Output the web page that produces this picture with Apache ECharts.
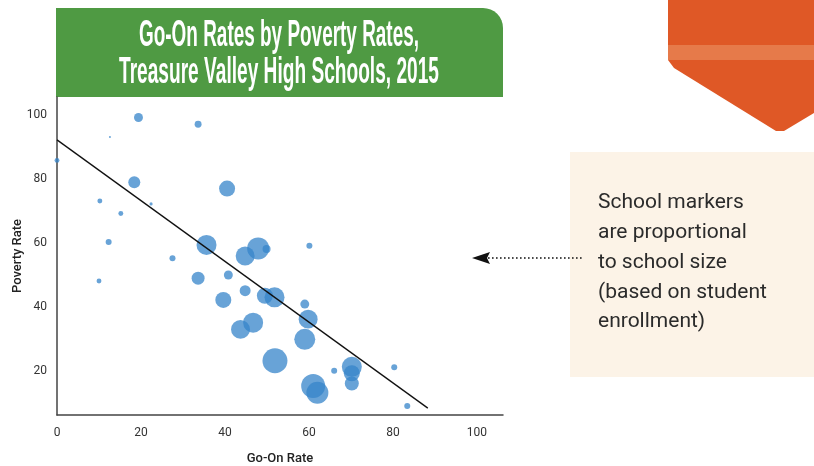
<!DOCTYPE html>
<html>
<head>
<meta charset="utf-8">
<script src="https://cdn.jsdelivr.net/npm/echarts@6/dist/echarts.min.js"></script>
<style>
  html, body { margin: 0; padding: 0; background: #fff; }
  #chart { width: 814px; height: 466px; }
</style>
</head>
<body>
<div id="chart"></div>
<script>
// go-on rate (x), poverty rate (y), enrollment (relative marker size)
const goOnRate = [19.4, 33.6, 12.6, 0, 18.4, 40.5, 10.2, 22.4, 15.2, 12.3, 35.6, 47.9, 44.8, 49.9, 60.1, 27.5, 33.6, 40.8, 44.8, 39.6, 49.5, 51.8, 59.0, 59.8, 46.7, 43.7, 59.0, 51.9, 70.2, 70.2, 70.2, 66.0, 80.3, 61.0, 62.0, 83.4, 10.0]
const povertyRate = [99.2, 97.1, 93.1, 85.8, 79.0, 77.0, 73.1, 72.2, 69.2, 60.3, 59.4, 58.3, 55.9, 58.1, 59.1, 55.2, 49.0, 50.0, 45.1, 42.2, 43.5, 43.0, 40.9, 36.2, 35.1, 33.0, 29.9, 23.2, 21.3, 19.3, 16.1, 20.1, 21.2, 15.3, 13.2, 9.1, 48.1]
const enrollment = [200, 120, 10, 60, 360, 640, 60, 25, 60, 90, 1000, 1210, 900, 160, 90, 90, 420, 200, 300, 640, 640, 1000, 200, 900, 1000, 900, 1100, 1560, 1000, 640, 490, 90, 90, 1440, 1210, 90, 60]

// trend line end points
const trendX = [0, 88.3]
const trendY = [92.2, 8.4]

const xTicks = [0, 20, 40, 60, 80, 100]
const yTicks = [20, 40, 60, 80, 100]

const titleLines = ['Go-On Rates by Poverty Rates,', 'Treasure Valley High Schools, 2015']
const noteLines = ['School markers', 'are proportional', 'to school size', '(based on student', 'enrollment)']

const points = goOnRate.map((x, i) => [x, povertyRate[i], enrollment[i]])
const trend = trendX.map((x, i) => [x, trendY[i]])

// squeeze title font to fit widths seen in the picture
const ctx = document.createElement('canvas').getContext('2d')
const titleFont = 'bold 37px "Liberation Sans Narrow", "Liberation Sans", sans-serif'
ctx.font = titleFont
const titleWidths = [280, 320]
const titleScale = titleLines.map((t, i) => titleWidths[i] / ctx.measureText(t).width)

const chart = echarts.init(document.getElementById('chart'))

const option = {
  animation: false,
  grid: { left: 57, right: 311, top: 97, bottom: 51, outerBoundsMode: 'none' },
  xAxis: {
    type: 'value',
    min: 0,
    max: 106.2,
    name: 'Go-On Rate',
    nameLocation: 'middle',
    nameGap: 37,
    nameMoveOverlap: false,
    nameTextStyle: { fontFamily: 'Roboto', fontSize: 13, color: '#222', fontWeight: 500 },
    splitLine: { show: false },
    axisTick: { show: false },
    axisLine: { lineStyle: { color: '#444', width: 1.5 } },
    axisLabel: { customValues: xTicks, fontFamily: 'Roboto', fontSize: 12, color: '#333', margin: 12 }
  },
  yAxis: {
    type: 'value',
    min: 6.25,
    max: 105.6,
    name: 'Poverty Rate',
    nameLocation: 'middle',
    nameGap: 33,
    nameMoveOverlap: false,
    nameTextStyle: { fontFamily: 'Roboto', fontSize: 13, color: '#222', fontWeight: 500 },
    splitLine: { show: false },
    axisTick: { show: false },
    axisLine: { show: true, lineStyle: { color: '#444', width: 1.5 } },
    axisLabel: { customValues: yTicks, fontFamily: 'Roboto', fontSize: 12, color: '#333', margin: 10 }
  },
  series: [
    {
      type: 'scatter',
      data: points,
      symbolSize: v => 2 * Math.sqrt(v[2] / 10),
      itemStyle: { color: '#3584c9', opacity: 0.75 }
    },
    {
      type: 'line',
      data: trend,
      symbol: 'none',
      lineStyle: { color: '#111', width: 1.3 },
      z: 3
    }
  ],
  graphic: [
    // green title box
    {
      type: 'rect',
      shape: { x: 56, y: 8, width: 447, height: 89, r: [0, 20, 0, 0] },
      style: { fill: '#4f9a43' }
    },
    ...titleLines.map((t, i) => ({
      type: 'text',
      x: 279,
      y: 36 + i * 37,
      scaleX: titleScale[i],
      style: { text: t, font: titleFont, fill: '#fff', textAlign: 'center', textVerticalAlign: 'middle' }
    })),
    // orange badge top right
    {
      type: 'polygon',
      shape: { points: [[668, 0], [814, 0], [814, 113], [784, 131], [776, 131], [674, 68], [668, 60]] },
      style: { fill: '#df5826' }
    },
    {
      type: 'rect',
      shape: { x: 668, y: 45, width: 146, height: 15 },
      style: { fill: '#e67a4a' }
    },
    // note box
    {
      type: 'rect',
      shape: { x: 570, y: 152, width: 244, height: 225 },
      style: { fill: '#fcf3e7' }
    },
    ...noteLines.map((t, i) => ({
      type: 'text',
      x: 598,
      y: 203 + i * 29.8,
      style: { text: t, font: '21px Roboto', fill: '#2b2b2b', textVerticalAlign: 'middle' }
    })),
    // dotted arrow
    {
      type: 'line',
      shape: { x1: 488, y1: 258, x2: 583, y2: 258 },
      style: { stroke: '#111', lineWidth: 1.6, lineDash: [1.6, 2.4] }
    },
    {
      type: 'polygon',
      shape: { points: [[472, 258], [490, 252], [487, 258], [490, 264]] },
      style: { fill: '#111' }
    }
  ]
}

chart.setOption(option)
</script>
</body>
</html>
